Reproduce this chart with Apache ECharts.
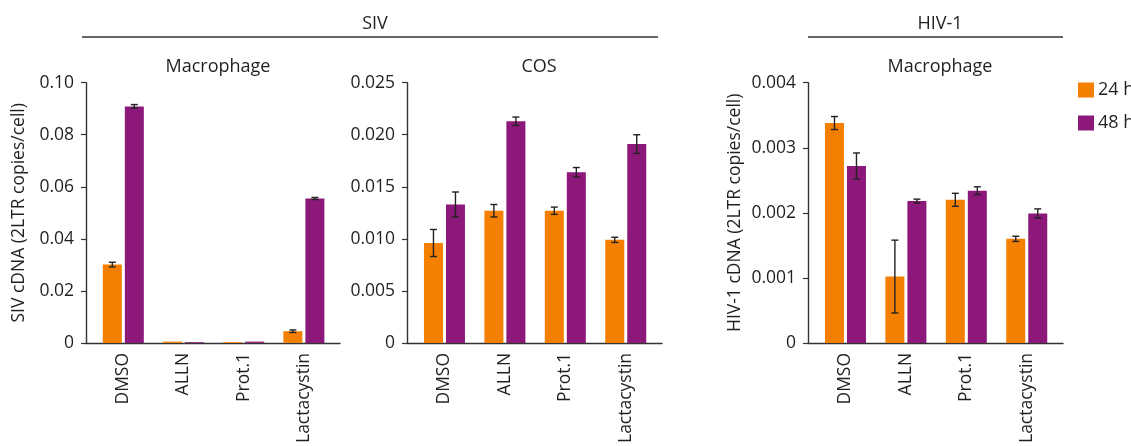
<!DOCTYPE html>
<html>
<head>
<meta charset="utf-8">
<script src="https://cdn.jsdelivr.net/npm/echarts@6/dist/echarts.min.js"></script>
<style>html,body{margin:0;padding:0;background:#fff;}#c{width:1131px;height:446px;}</style>
</head>
<body>
<div id="c"></div>
<script>
// ---- data ----
const categories = ['DMSO', 'ALLN', 'Prot.1', 'Lactacystin'];
const seriesNames = ['24 h', '48 h'];

const sivMac24 = [0.0301, 0.0005, 0.0003, 0.0045];
const sivMac24Err = [0.0009, 0, 0, 0.0005];
const sivMac48 = [0.0909, 0.0003, 0.0005, 0.0555];
const sivMac48Err = [0.0007, 0, 0, 0.0004];

const sivCos24 = [0.0096, 0.0127, 0.0127, 0.0099];
const sivCos24Err = [0.0013, 0.0006, 0.00035, 0.00025];
const sivCos48 = [0.0133, 0.0213, 0.0164, 0.0191];
const sivCos48Err = [0.0012, 0.0004, 0.00045, 0.0009];

const hiv24 = [0.00338, 0.00102, 0.00220, 0.00160];
const hiv24Err = [0.0001, 0.00056, 0.0001, 0.00004];
const hiv48 = [0.00272, 0.00218, 0.00234, 0.00199];
const hiv48Err = [0.0002, 0.00003, 0.00006, 0.00007];

const ticksSivMac = ['0', '0.02', '0.04', '0.06', '0.08', '0.10'];
const ticksSivCos = ['0', '0.005', '0.010', '0.015', '0.020', '0.025'];
const ticksHiv = ['0', '0.001', '0.002', '0.003', '0.004'];

// ---- style ----
const ORANGE = '#F57F00';
const PURPLE = '#8C1879';
const AXIS = '#333333';
const TXT = '#231f20';
const FONT = 'Open Sans';
const FS = 17.5;
const BAR_W = 19;
const BAR_GAP_PX = 3;

const grids = [
  { left: 86, width: 254, top: 82.7, bottom: 101 },
  { left: 407, width: 255, top: 82.7, bottom: 101 },
  { left: 808, width: 255, top: 82.7, bottom: 101 }
];

function xAxis(gi) {
  return {
    type: 'value', gridIndex: gi, min: -0.62, max: 3.6,
    splitLine: { show: false },
    axisLine: { show: true, onZero: false, lineStyle: { color: AXIS, width: 1.4 } },
    axisTick: { show: false },
    axisLabel: {
      customValues: [0, 1, 2, 3],
      formatter: v => categories[Math.round(v)],
      rotate: 90, margin: 10, color: TXT, fontFamily: FONT, fontSize: FS
    }
  };
}
function yAxis(gi, max, interval, labels, name, nameGap) {
  return {
    type: 'value', gridIndex: gi, min: 0, max: max, interval: interval,
    splitLine: { show: false },
    axisLine: { show: true, onZero: false, lineStyle: { color: AXIS, width: 1.4 } },
    axisTick: { show: true, length: 5, lineStyle: { color: AXIS, width: 1.2 } },
    axisLabel: {
      formatter: (v) => labels[Math.round(v / interval)],
      margin: 12, color: TXT, fontFamily: FONT, fontSize: FS
    },
    name: name || '', nameLocation: 'middle', nameGap: nameGap || 0,
    nameTextStyle: { color: TXT, fontFamily: FONT, fontSize: FS }
  };
}

function barSeries(gi, name, vals, color) {
  return {
    type: 'bar', name: name, xAxisIndex: gi, yAxisIndex: gi,
    barWidth: BAR_W, barGap: (BAR_GAP_PX / BAR_W * 100) + '%',
    itemStyle: { color: color },
    data: vals.map((v, i) => [i, v]),
    silent: true
  };
}
function errSeries(gi, vals, errs, side) {
  return {
    type: 'custom', xAxisIndex: gi, yAxisIndex: gi, z: 10, silent: true,
    encode: { x: 0, y: 1 },
    data: vals.map((v, i) => [i, v, errs[i]]),
    renderItem: function (params, api) {
      const x = api.value(0), y = api.value(1), e = api.value(2);
      if (!e) return null;
      const off = side * (BAR_W / 2 + BAR_GAP_PX / 2);
      const top = api.coord([x, y + e]);
      const bot = api.coord([x, y - e]);
      const cx = top[0] + off;
      const cap = 3.5;
      const st = { stroke: '#222', lineWidth: 1.4 };
      return {
        type: 'group', children: [
          { type: 'line', shape: { x1: cx, y1: top[1], x2: cx, y2: bot[1] }, style: st },
          { type: 'line', shape: { x1: cx - cap, y1: top[1], x2: cx + cap, y2: top[1] }, style: st },
          { type: 'line', shape: { x1: cx - cap, y1: bot[1], x2: cx + cap, y2: bot[1] }, style: st }
        ]
      };
    }
  };
}

const titleStyle = { color: TXT, fontFamily: FONT, fontSize: 18, fontWeight: 'normal' };
const chart = echarts.init(document.getElementById('c'), null, { renderer: 'canvas' });
chart.setOption({
  animation: false,
  backgroundColor: '#fff',
  textStyle: { fontFamily: FONT },
  grid: grids,
  title: [
    { text: 'SIV', left: 370, top: 10, textAlign: 'center', textStyle: titleStyle },
    { text: 'HIV-1', left: 935, top: 10, textAlign: 'center', textStyle: titleStyle },
    { text: 'Macrophage', left: 213, top: 53, textAlign: 'center', textStyle: titleStyle },
    { text: 'COS', left: 534, top: 53, textAlign: 'center', textStyle: titleStyle },
    { text: 'Macrophage', left: 935, top: 53, textAlign: 'center', textStyle: titleStyle }
  ],
  graphic: [
    { type: 'line', shape: { x1: 82, y1: 37, x2: 658, y2: 37 }, style: { stroke: AXIS, lineWidth: 1.4 }, silent: true },
    { type: 'line', shape: { x1: 808, y1: 37, x2: 1063, y2: 37 }, style: { stroke: AXIS, lineWidth: 1.4 }, silent: true }
  ],
  legend: {
    orient: 'vertical', left: 1073, top: 76,
    itemWidth: 16, itemHeight: 15, itemGap: 15,
    icon: 'rect',
    data: seriesNames,
    textStyle: { color: TXT, fontFamily: FONT, fontSize: 18, padding: [0, 0, 0, -1] },
    selectedMode: false
  },
  xAxis: [xAxis(0), xAxis(1), xAxis(2)],
  yAxis: [
    yAxis(0, 0.1, 0.02, ticksSivMac, 'SIV cDNA (2LTR copies/cell)', 58),
    yAxis(1, 0.025, 0.005, ticksSivCos),
    yAxis(2, 0.004, 0.001, ticksHiv, 'HIV-1 cDNA (2LTR copies/cell)', 64)
  ],
  series: [
    barSeries(0, seriesNames[0], sivMac24, ORANGE),
    barSeries(0, seriesNames[1], sivMac48, PURPLE),
    barSeries(1, seriesNames[0], sivCos24, ORANGE),
    barSeries(1, seriesNames[1], sivCos48, PURPLE),
    barSeries(2, seriesNames[0], hiv24, ORANGE),
    barSeries(2, seriesNames[1], hiv48, PURPLE),
    errSeries(0, sivMac24, sivMac24Err, -1),
    errSeries(0, sivMac48, sivMac48Err, 1),
    errSeries(1, sivCos24, sivCos24Err, -1),
    errSeries(1, sivCos48, sivCos48Err, 1),
    errSeries(2, hiv24, hiv24Err, -1),
    errSeries(2, hiv48, hiv48Err, 1)
  ]
});
</script>
</body>
</html>
